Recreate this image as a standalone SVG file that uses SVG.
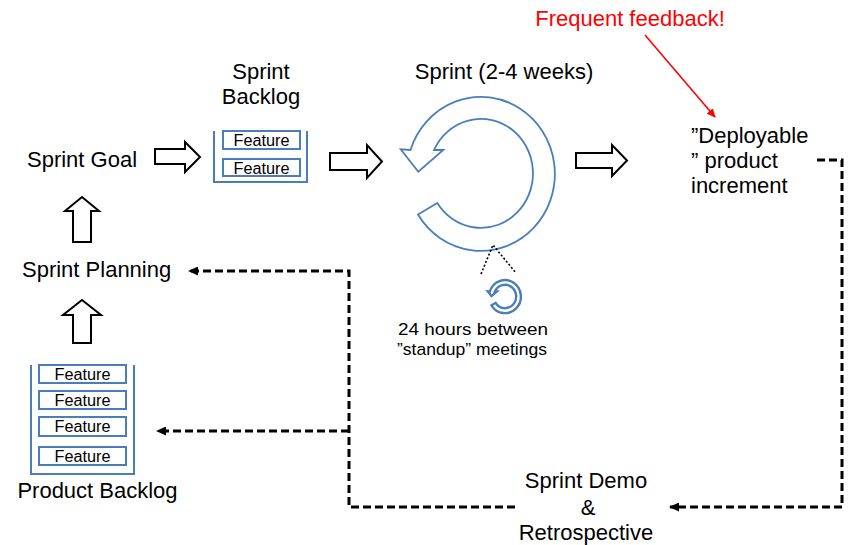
<svg xmlns="http://www.w3.org/2000/svg" width="850" height="545" viewBox="0 0 850 545">
<style>
text{font-family:"Liberation Sans",Arial,sans-serif;fill:#000}
.lbl{font-size:22px}
.feat{font-size:16px}
.small{font-size:17px}
.blk{fill:#fff;stroke:#000;stroke-width:2;stroke-linejoin:miter}
.cont{fill:none;stroke:#4a7ebb;stroke-width:2}
.fbox{fill:#fff;stroke:#4a7ebb;stroke-width:2}
.dash{fill:none;stroke:#000;stroke-width:3;stroke-dasharray:8 4}
.ring{fill:#fff;stroke:#4a7ebb;stroke-width:1.8}
</style>
<defs>
<marker id="ah" markerWidth="10" markerHeight="9" refX="9" refY="4.5" orient="auto" markerUnits="userSpaceOnUse">
<path d="M0,0 L10,4.5 L0,9 Z" fill="#000"/>
</marker>
<marker id="ahr" markerWidth="9" markerHeight="8" refX="8" refY="4" orient="auto" markerUnits="userSpaceOnUse">
<path d="M0,0 L9,4 L0,8 Z" fill="#f00"/>
</marker>
</defs>

<g id="sprint-goal">
<text class="lbl" x="27" y="167">Sprint Goal</text>
</g>

<g id="sprint-planning">
<text class="lbl" x="22" y="277">Sprint Planning</text>
</g>

<g id="sprint-backlog">
<text class="lbl" x="261" y="79" text-anchor="middle">Sprint</text>
<text class="lbl" x="261" y="104" text-anchor="middle">Backlog</text>
<path class="cont" d="M214,131 V182 H307 V131"/>
<rect class="fbox" x="223" y="131" width="77" height="18"/>
<text class="feat" x="261.5" y="146" text-anchor="middle" textLength="56" lengthAdjust="spacingAndGlyphs">Feature</text>
<rect class="fbox" x="223" y="159" width="77" height="17"/>
<text class="feat" x="261.5" y="173.5" text-anchor="middle" textLength="56" lengthAdjust="spacingAndGlyphs">Feature</text>
</g>

<g id="product-backlog">
<path class="cont" d="M31,365 V474 H134 V365"/>
<rect class="fbox" x="39" y="365" width="87" height="18"/>
<text class="feat" x="82.5" y="380" text-anchor="middle" textLength="56" lengthAdjust="spacingAndGlyphs">Feature</text>
<rect class="fbox" x="39" y="391" width="87" height="18"/>
<text class="feat" x="82.5" y="406" text-anchor="middle" textLength="56" lengthAdjust="spacingAndGlyphs">Feature</text>
<rect class="fbox" x="39" y="417" width="87" height="19"/>
<text class="feat" x="82.5" y="432" text-anchor="middle" textLength="56" lengthAdjust="spacingAndGlyphs">Feature</text>
<rect class="fbox" x="39" y="447" width="87" height="18"/>
<text class="feat" x="82.5" y="462" text-anchor="middle" textLength="56" lengthAdjust="spacingAndGlyphs">Feature</text>
<text class="lbl" x="97.5" y="498" text-anchor="middle">Product Backlog</text>
</g>

<g id="sprint">
<text class="lbl" x="504" y="79" text-anchor="middle">Sprint (2-4 weeks)</text>
<path class="ring" d="M418,214.5 A74,77 0 1 0 410.5,150 L400.7,149.3 L418.3,171.7 L443.3,150 L434,150 A52,54.5 0 1 1 437.3,203 Z"/>
</g>

<g id="standup">
<path d="M481,274 L493,245 L516,273" fill="none" stroke="#000" stroke-width="1.6" stroke-dasharray="2 2"/>
<path class="ring" transform="translate(505,296.5) scale(0.215) translate(-481,-173.5)" style="stroke-width:2.4" vector-effect="non-scaling-stroke" d="M418,214.5 A74,77 0 1 0 410.5,150 L400.7,149.3 L418.3,171.7 L443.3,150 L434,150 A52,54.5 0 1 1 437.3,203 Z"/>
<text class="small" x="398" y="335" textLength="150" lengthAdjust="spacingAndGlyphs">24 hours between</text>
<text class="small" x="397" y="355" textLength="150" lengthAdjust="spacingAndGlyphs">”standup” meetings</text>
</g>

<g id="increment">
<text class="lbl" x="691" y="143">”Deployable</text>
<text class="lbl" x="691" y="168">” product</text>
<text class="lbl" x="691" y="193">increment</text>
</g>

<g id="feedback">
<text class="lbl" x="630" y="26" text-anchor="middle" style="fill:#f00">Frequent feedback!</text>
</g>

<g id="demo">
<text class="lbl" x="586" y="488" text-anchor="middle">Sprint Demo</text>
<text class="lbl" x="588" y="515" text-anchor="middle">&amp;</text>
<text class="lbl" x="586" y="540" text-anchor="middle">Retrospective</text>
</g>

<g id="connectors">
<path class="blk" d="M155,149 H185 V142 L200,157 L185,172 V164 H155 Z"/>
<path class="blk" d="M330,153 H367 V145 L382,161.5 L367,178 V170 H330 Z"/>
<path class="blk" d="M576,153 H612 V145 L627,160.5 L612,176 V168 H576 Z"/>
<path class="blk" d="M73,242 V211 H65 L82,197 L99,211 H91 V242 Z"/>
<path class="blk" d="M73,343 V315 H63 L82,300 L101,315 H91 V343 Z"/>
<path class="dash" d="M817,160 H842 V507 H670" marker-end="url(#ah)"/>
<path class="dash" d="M515,507 H349 V271 H189" marker-end="url(#ah)"/>
<path class="dash" d="M349,431 H157" marker-end="url(#ah)"/>
<line x1="645" y1="35" x2="715" y2="117" stroke="#f00" stroke-width="1.6" marker-end="url(#ahr)"/>
</g>
</svg>
